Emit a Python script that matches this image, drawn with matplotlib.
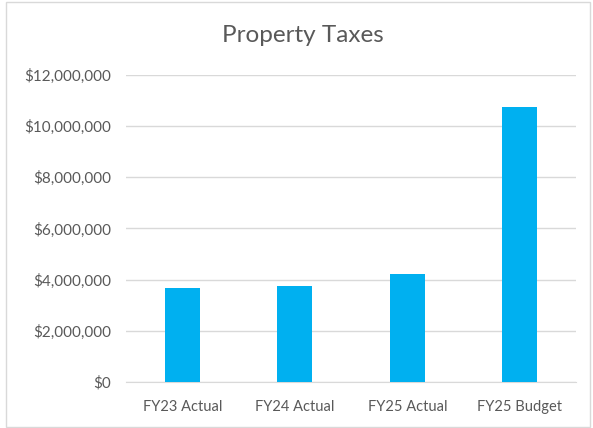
import matplotlib.pyplot as plt
from matplotlib.patches import Rectangle
from matplotlib.ticker import FuncFormatter

# data
categories = ['FY23 Actual', 'FY24 Actual', 'FY25 Actual', 'FY25 Budget']
taxes = [3660000, 3750000, 4210000, 10750000]
yticks = [0, 2000000, 4000000, 6000000, 8000000, 10000000, 12000000]

plt.rcParams['font.family'] = ['Lato', 'DejaVu Sans']
grey = '#595959'

fig = plt.figure(figsize=(5.93, 4.28), dpi=100)
fig.patches.append(Rectangle((6 / 593, 1 / 428), 584 / 593, 425 / 428,
                             transform=fig.transFigure, fill=False,
                             edgecolor='#D9D9D9', linewidth=1))

ax = fig.add_axes([126 / 593, 46 / 428, 450 / 593, 307 / 428])
ax.bar(range(len(categories)), taxes, width=0.31, color='#00B0F0', zorder=3)

ax.set_xlim(-0.5, len(categories) - 0.5)
ax.set_ylim(0, 12000000)
ax.set_yticks(yticks)
ax.yaxis.set_major_formatter(FuncFormatter(lambda v, p: '${:,.0f}'.format(v)))
ax.set_xticks(range(len(categories)))
ax.set_xticklabels(categories)
ax.grid(axis='y', color='#D9D9D9', linewidth=1, zorder=0)
ax.tick_params(length=0, colors=grey)
ax.tick_params(axis='y', labelsize=11, pad=11)
ax.tick_params(axis='x', labelsize=10.5, pad=13)
for s in ['top', 'right', 'left']:
    ax.spines[s].set_visible(False)
ax.spines['bottom'].set_color('#D9D9D9')

fig.text(303 / 593, 1 - 36 / 428, 'Property Taxes', ha='center', va='center',
         fontsize=17.5, color=grey)

fig.savefig('out.png', dpi=100)
